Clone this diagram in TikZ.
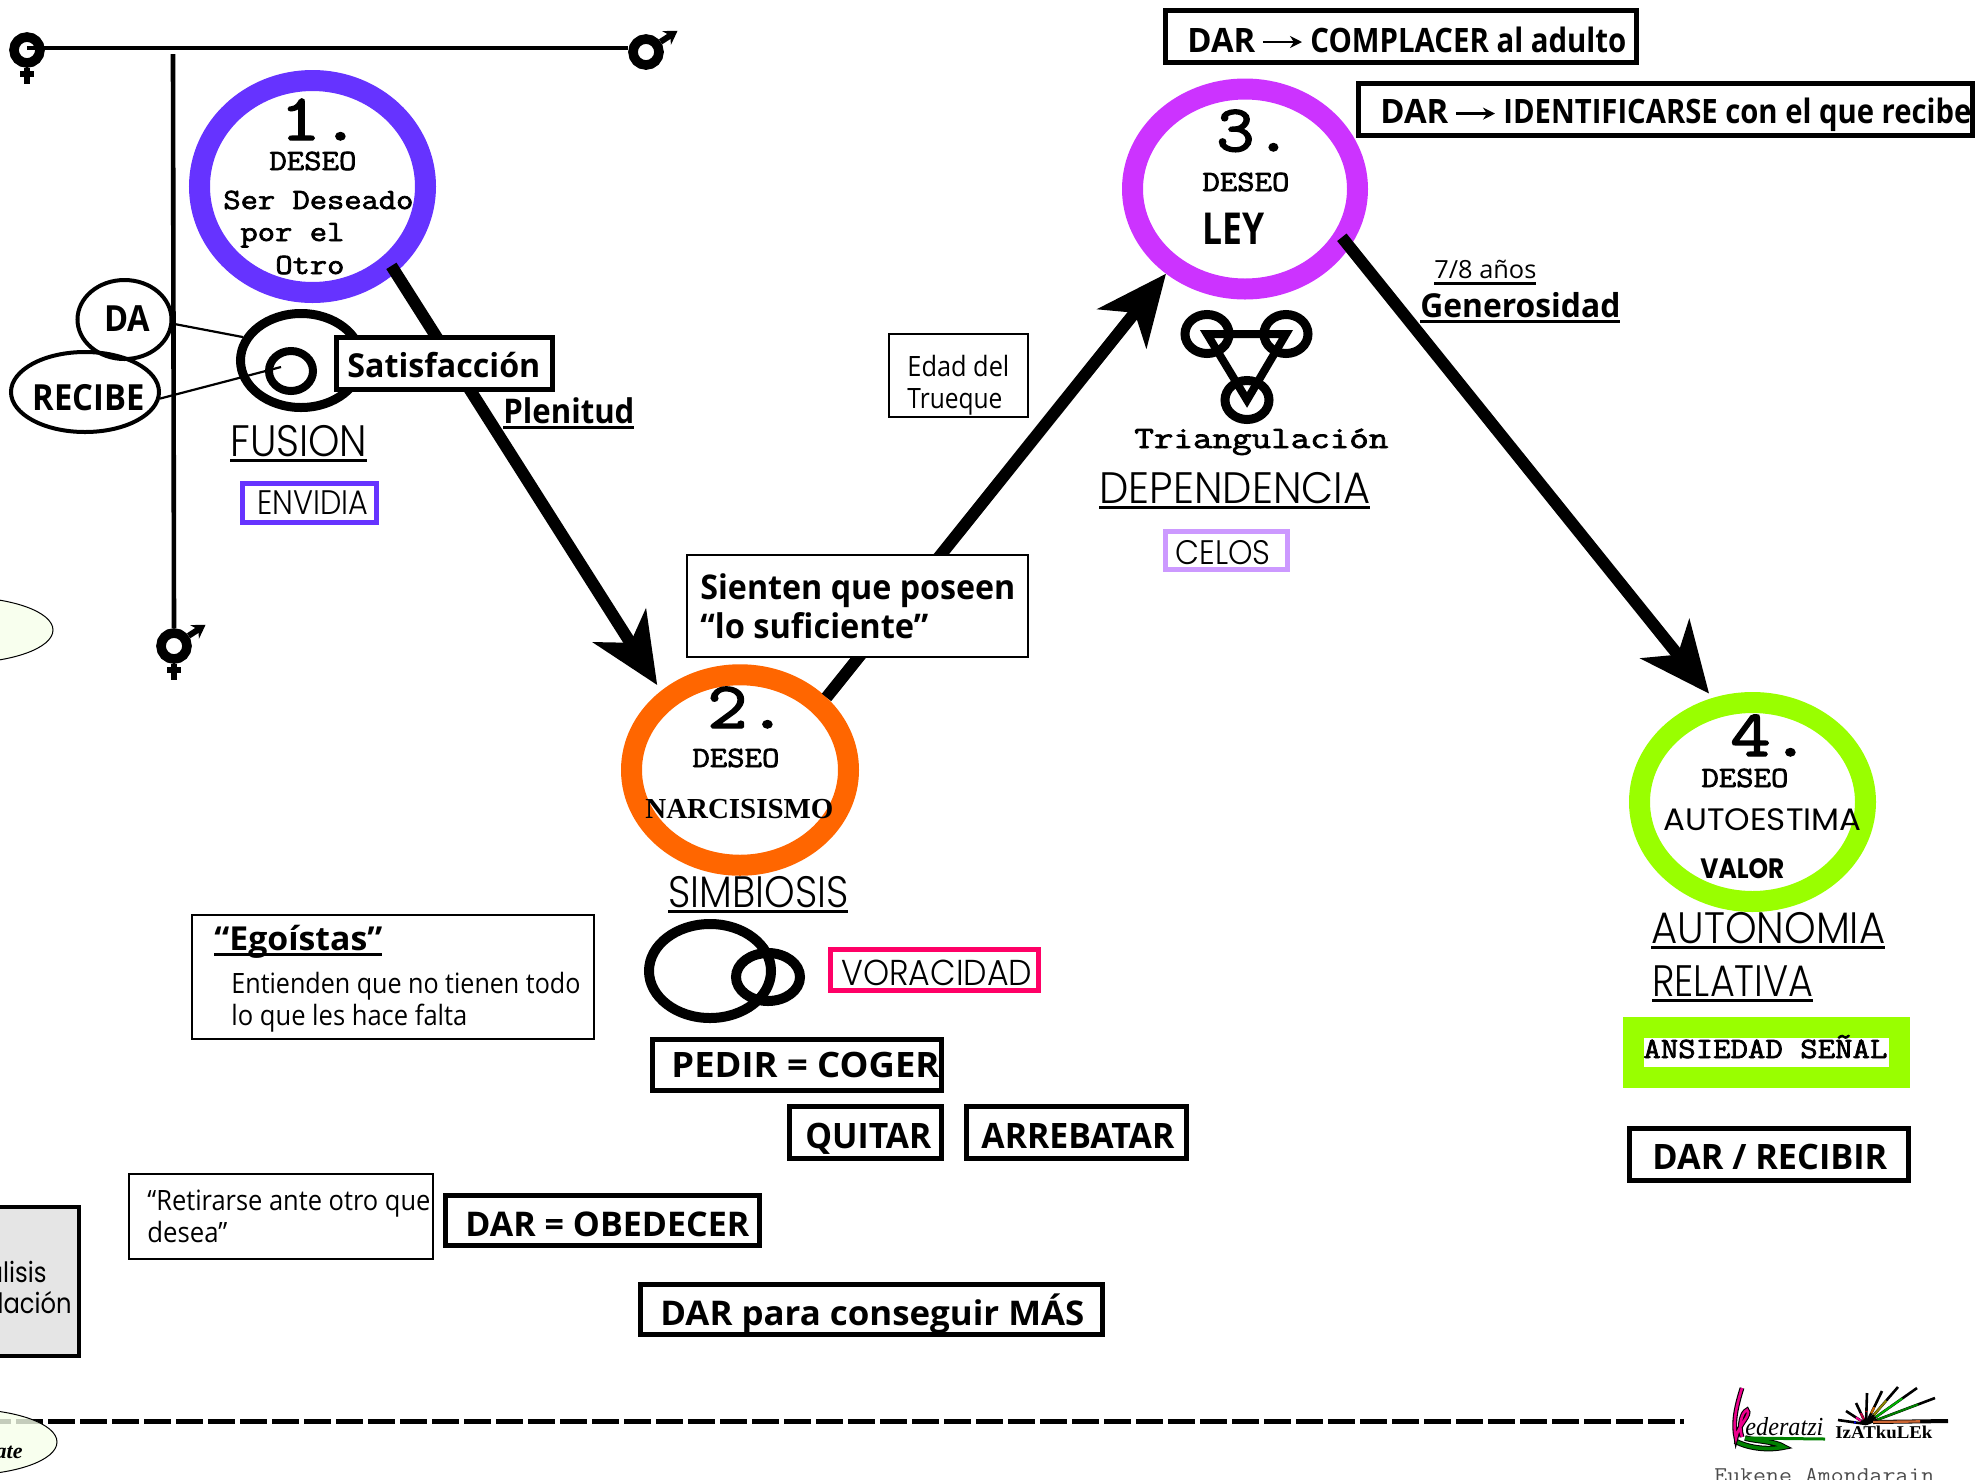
\documentclass[tikz,border=0pt]{standalone}
\usepackage{fontspec}
\usepackage{graphicx}
\usetikzlibrary{arrows.meta,shapes.geometric,calc}
\newfontfamily\abierta{Open Sans}
\newfontfamily\gotica{Poppins}
\newfontfamily\fina{Poppins Light}
\newfontfamily\romana{Liberation Serif}
\newfontfamily\maquina[FakeBold=2.2]{Latin Modern Mono}
\newlength\ux
\setlength\ux{.5pt}
\newcommand\ancho[2]{\resizebox{#1\ux}{\height}{#2}}
\newcommand\cour[2]{\ancho{#1}{\maquina\fontsize{14.7}{16}\selectfont #2}}
\newcommand\cifra[2]{\ancho{#1}{\maquina\fontsize{33}{36}\selectfont #2}}
\newcommand\gruesa[3]{\ancho{#1}{\abierta\bfseries\fontsize{#2}{#2}\selectfont #3}}
\newcommand\plana[3]{\ancho{#1}{\abierta\fontsize{#2}{#2}\selectfont #3}}
\newcommand\ligera[3]{\ancho{#1}{\fina\fontsize{#2}{#2}\selectfont #3}}
\newcommand\subr[1]{\vtop{\hbox{\smash{#1}}\kern1.6pt\hrule height 1.5pt}}
\definecolor{violeta}{HTML}{6633FF}
\definecolor{naranja}{HTML}{FF6600}
\definecolor{magenta3}{HTML}{CC33FF}
\definecolor{lima}{HTML}{99FF00}
\definecolor{rosa}{HTML}{FF0066}
\definecolor{lila}{HTML}{CC99FF}
\definecolor{palido}{HTML}{F6FFEA}
\tikzset{
    tam/.style 2 args={
        minimum width=#1*.5pt,
        minimum height=#2*.5pt,
    },
    anillo/.style={
        ellipse,
        draw,
        line width=10.5pt,
        inner sep=0pt,
    },
    aro/.style={
        ellipse,
        draw=black,
        line width=4.5pt,
        inner sep=0pt,
    },
    globo/.style={
        ellipse,
        draw=black,
        line width=2pt,
        inner sep=0pt,
    },
    caja/.style={
        rectangle,
        draw=black,
        fill=white,
        line width=2.5pt,
        inner sep=0pt,
    },
    nota/.style={
        rectangle,
        draw=black,
        fill=white,
        line width=.6pt,
        inner sep=0pt,
    },
    txt/.style={
        anchor=base west,
        inner sep=0pt,
    },
    signo/.style={
        circle,
        draw=black,
        line width=4.8pt,
        inner sep=0pt,
        minimum size=13pt,
    },
    trazo/.style={
        draw=black,
        line width=2.3pt,
    },
    brazo/.style={
        draw=black,
        line width=3pt,
    },
    flecha/.style={
        draw=black,
        line width=6pt,
        -{Stealth[length=35pt,width=31pt,inset=10pt]},
    },
    flechita/.style={
        draw=black,
        line width=1.2pt,
        -{Stealth[length=6pt,width=6pt]},
    },
    marte/.style={
        draw=black,
        line width=3pt,
        -{Stealth[length=6.5pt,width=8pt]},
    },
    fino/.style={
        draw=black,
        line width=1.1pt,
    },
    pincel/.style={
        draw=black,
        line width=1.3pt,
    },
    lejano/.style={
        ellipse,
        draw=black,
        line width=.5pt,
        fill=palido,
        fill opacity=.8,
        tam={186}{66},
    },
}
\begin{document}
\begin{tikzpicture}[x=.5pt,y=-.5pt]
    \useasboundingbox (0,0) rectangle (1977,1479);

    \coordinate (rayaA) at (-15.7,1421.7);
    \coordinate (rayaB) at (1684,1421.7);
    \draw[line width=2.5pt,dash pattern=on 13.25pt off 2.75pt] (rayaA) -- (rayaB);

    \node[lejano] (lejanoA) at (-40,630) {};
    \node[lejano] (lejanoB) at (-36,1442) {};
    \node[inner sep=0pt,anchor=base east] (ate) at (23,1458) {\romana\bfseries\itshape\fontsize{11}{11}\selectfont ate};

    \node[rectangle,draw=black,line width=2pt,fill=black!10,inner sep=0pt,tam={260}{149}] (gris) at (-51,1281.5) {};
    \node[inner sep=0pt,anchor=base east] (gris1) at (47,1282) {\ancho{60}{\gotica\fontsize{14}{14}\selectfont álisis}};
    \node[inner sep=0pt,anchor=base east] (gris2) at (72,1313) {\ancho{74}{\gotica\fontsize{14}{14}\selectfont lación}};

    % ejes
    \node[signo] (venusA) at (27,50) {};
    \node[signo] (marteA) at (646,52) {};
    \node[signo] (ambos) at (174,646) {};
    \coordinate (ejeV) at (173,54);
    \draw[trazo] ([yshift=1pt]venusA.center) -- ([yshift=2pt]marteA.west);
    \draw[trazo] (ejeV) -- (ambos.north);
    \draw[brazo] (venusA.south) -- ++(0,16);
    \draw[brazo] (venusA.south) ++(-7,6) -- ++(14,0);
    \draw[brazo] (ambos.south) -- ++(0,16);
    \draw[brazo] (ambos.south) ++(-7,6) -- ++(14,0);
    \draw[marte] (marteA.35) -- ++(17,-11);
    \draw[marte] (ambos.35) -- ++(17,-11);

    % deseos
    \node[anillo,draw=violeta,tam={226}{212}] (d1) at (312.5,186.5) {};
    \node[anillo,draw=naranja,tam={217}{190.5}] (d2) at (740,770) {};
    \node[anillo,draw=magenta3,tam={225}{200}] (d3) at (1245,189) {};
    \node[anillo,draw=lima,tam={226}{199}] (d4) at (1752.5,802) {};

    \node[txt] (n1) at (280,140) {\cifra{80}{1.}};
    \node[txt] (de1) at (269,170) {\cour{87}{DESEO}};
    \node[txt] (ser) at (223,209) {\cour{190}{Ser Deseado}};
    \node[txt] (por) at (240,241) {\cour{104}{por el}};
    \node[txt] (otro) at (275,274) {\cour{69}{Otro}};

    \node[txt] (n2) at (707,728) {\cifra{80}{2.}};
    \node[txt] (de2) at (692,767) {\cour{87}{DESEO}};
    \node[txt] (narci) at (645,818) {\ancho{188}{\romana\bfseries\fontsize{14.5}{14.5}\selectfont NARCISISMO}};

    \node[txt] (n3) at (1216,151) {\cifra{76}{3.}};
    \node[txt] (de3) at (1202,191) {\cour{87}{DESEO}};
    \node[txt] (ley) at (1202,244) {\gruesa{62}{22}{LEY}};

    \node[txt] (n4) at (1730,756) {\cifra{80}{4.}};
    \node[txt] (de4) at (1701,787) {\cour{87}{DESEO}};
    \node[txt] (auto) at (1663,830) {\ancho{198}{\gotica\fontsize{15.5}{15.5}\selectfont AUTOESTIMA}};
    \node[txt] (valor) at (1700,878) {\ancho{84}{\gotica\bfseries\fontsize{14}{14}\selectfont VALOR}};

    % fusion
    \node[globo,tam={94}{79}] (da) at (124.5,319.5) {};
    \node[globo,tam={148}{80}] (recibe) at (85,392) {};
    \node[txt] (daT) at (104,331) {\gruesa{46}{18}{DA}};
    \node[txt] (recibeT) at (32,410) {\gruesa{112}{18}{RECIBE}};
    \node[aro,tam={121}{94}] (fusionA) at (301,360.5) {};
    \node[aro,line width=4pt,tam={44}{40}] (fusionB) at (291,371) {};
    \coordinate (finRecibe) at (281,367);
    \draw[fino] (da.-5) -- (fusionA.158);
    \draw[fino] (recibe.-5) -- (finRecibe);

    % flechas
    \draw[flecha,shorten <=-4pt,shorten >=3.5pt] (d1.-46.2) -- (d2.135.8);
    \draw[flecha,shorten >=0pt] (d2.40.7) -- (d3.227.8);
    \draw[flecha,shorten <=-6.25pt,shorten >=2.75pt] (d3.-29) -- (d4.111.6);

    \node[caja,tam={216}{52}] (satis) at (444.5,363.5) {};
    \node[txt] (satisT) at (347,377) {\gruesa{193}{16.5}{Satisfacción}};
    \node[txt] (plenitud) at (503,423) {\subr{\gruesa{131}{17}{Plenitud}}};
    \node[txt] (fusion) at (230,456) {\subr{\ligera{137}{22}{FUSION}}};
    \node[caja,draw=violeta,tam={134}{39}] (envidia) at (309,502.5) {};
    \node[txt] (envidiaT) at (257,514) {\ligera{111}{17}{ENVIDIA}};

    \node[nota,tam={139}{83}] (edad) at (958.5,375.5) {};
    \node[txt] (edad1) at (907,376) {\plana{102}{14}{Edad del}};
    \node[txt] (edad2) at (907,408) {\plana{95}{14}{Trueque}};

    \node[nota,tam={341}{102}] (sienten) at (857.5,606) {};
    \node[txt] (s1) at (700,599) {\gruesa{315}{17}{Sienten que poseen}};
    \node[txt] (s2) at (700,638) {\gruesa{228}{17}{“lo suficiente”}};

    % dependencia
    \node[aro,tam={44}{39}] (tA) at (1207,334) {};
    \node[aro,tam={44}{39}] (tB) at (1286,334) {};
    \node[aro,tam={44}{39}] (tC) at (1247,400) {};
    \draw[line width=4pt] (tA.center) -- (tB.center) -- (tC.center) -- cycle;
    \node[txt] (tri) at (1134,448) {\ancho{254}{\maquina\fontsize{15.5}{16}\selectfont Triangulación}};
    \node[txt] (depen) at (1099,503) {\subr{\ligera{271}{22}{DEPENDENCIA}}};
    \node[caja,draw=lila,tam={122.5}{38.5}] (celos) at (1226.5,550.5) {};
    \node[txt] (celosT) at (1175,564.5) {\ligera{95}{17}{CELOS}};

    \node[caja,tam={471}{52}] (c1) at (1401,36.5) {};
    \node[txt] (dar1) at (1187,52) {\gruesa{68}{16.8}{DAR}};
    \node[txt] (comp) at (1310,52) {\gruesa{316}{16.8}{COMPLACER al adulto}};
    \draw[flechita] (dar1.base east) ++(7,-10) -- ($(comp.base west)+(-8,-10)$);

    \node[caja,tam={614}{52}] (c2) at (1665.5,109) {};
    \node[txt] (dar2) at (1380,123.6) {\gruesa{68}{16.8}{DAR}};
    \node[txt] (iden) at (1503,123.6) {\gruesa{468}{16.8}{IDENTIFICARSE con el que recibe}};
    \draw[flechita] (dar2.base east) ++(7,-10) -- ($(iden.base west)+(-8,-10)$);

    \node[txt] (anios) at (1434,278.6) {\subr{\plana{102}{12.5}{7/8 años}}};
    \node[txt] (gene) at (1420,317) {\subr{\gruesa{200}{16.5}{Generosidad}}};

    % simbiosis
    \node[txt] (simbio) at (668,907) {\subr{\ligera{180}{22}{SIMBIOSIS}}};
    \node[aro,line width=5pt,tam={122}{94}] (simA) at (710,971) {};
    \node[aro,line width=5pt,tam={64}{48}] (simB) at (768,977) {};
    \node[caja,draw=rosa,tam={208}{41}] (vora) at (934.5,970) {};
    \node[txt] (voraT) at (841,985) {\ligera{191}{18}{VORACIDAD}};
    \node[caja,tam={289}{51}] (pedir) at (797,1065) {};
    \node[txt] (pedirT) at (671,1077) {\gruesa{268}{17.5}{PEDIR = COGER}};
    \node[caja,tam={151.5}{52}] (quitar) at (865.7,1132.5) {};
    \node[txt] (quitarT) at (805,1148) {\gruesa{126}{17.5}{QUITAR}};
    \node[caja,tam={220}{52}] (arre) at (1076,1132.5) {};
    \node[txt] (arreT) at (981,1148) {\gruesa{193}{17.5}{ARREBATAR}};
    \node[caja,tam={314}{50}] (obed) at (602.5,1220.5) {};
    \node[txt] (obedT) at (465,1236) {\gruesa{284}{17}{DAR = OBEDECER}};
    \node[caja,tam={462}{50}] (mas) at (871.5,1309.5) {};
    \node[txt] (masT) at (660,1325) {\gruesa{424}{17}{DAR para conseguir MÁS}};

    \node[nota,tam={402}{124}] (ego) at (393,977) {};
    \node[txt] (ego0) at (214,950) {\subr{\gruesa{168}{16.5}{“Egoístas”}}};
    \node[txt] (ego1) at (231,993) {\plana{349}{14}{Entienden que no tienen todo}};
    \node[txt] (ego2) at (231,1025) {\plana{236}{14}{lo que les hace falta}};

    \node[nota,tam={304}{85}] (reti) at (281,1216.5) {};
    \node[txt] (reti1) at (147,1210) {\plana{283}{14}{“Retirarse ante otro que}};
    \node[txt] (reti2) at (147,1242) {\plana{80}{14}{desea”}};

    % autonomia
    \node[txt] (auton) at (1651,943) {\subr{\ligera{234}{22}{AUTONOMIA}}};
    \node[txt] (relat) at (1652,996) {\subr{\ligera{161}{22}{RELATIVA}}};
    \node[caja,draw=lima,line width=10.5pt,tam={266}{50}] (ansie) at (1766.5,1052.5) {};
    \node[txt] (ansieT) at (1643,1058) {\ancho{244}{\maquina\fontsize{14.7}{16}\selectfont ANSIEDAD SEÑAL}};
    \node[caja,tam={279}{52}] (darrec) at (1769,1154.5) {};
    \node[txt] (darrecT) at (1652,1169) {\gruesa{235}{17.5}{DAR / RECIBIR}};

    % firma
    \draw[line width=2.8pt,black] (1735,1441) .. controls (1750,1449) and (1770,1450) .. (1784,1447) .. controls (1775,1441) and (1755,1441) .. (1745,1438);
    \draw[line width=1.8pt,green!50!black] (1735,1441) .. controls (1750,1449) and (1770,1450) .. (1784,1447) .. controls (1775,1441) and (1755,1441) .. (1745,1438);
    \draw[line width=1.5pt,green!50!black] (1745,1438) -- (1825,1439);
    \draw[line width=2.4pt,black] (1742,1388) .. controls (1735,1410) and (1733,1425) .. (1736,1438) .. controls (1738,1425) and (1752,1415) .. (1747,1410) .. controls (1742,1412) and (1738,1425) .. (1742,1437);
    \draw[line width=1.3pt,magenta] (1742,1388) .. controls (1735,1410) and (1733,1425) .. (1736,1438) .. controls (1738,1425) and (1752,1415) .. (1747,1410) .. controls (1742,1412) and (1738,1425) .. (1742,1437);
    \node[txt] (hede) at (1745,1435) {\ancho{78}{\romana\itshape\fontsize{13}{13}\selectfont ederatzi}};
    \coordinate (solB) at (1866,1424);
    \foreach \xt/\yt/\col in {1838/1420/blue,1846/1411/magenta,1856/1403/purple,1867/1393/red!70!black,1882/1391/orange!80!black,1898/1387/olive,1917/1388/green!70!black,1935/1398/green!50!black}
        \draw[pincel,shorten <=6pt] (solB) -- (\xt,\yt) (solB) edge[\col,line width=1pt,shorten <=6pt,shorten >=9pt] (\xt,\yt);
    \coordinate (brochaA) at (1873,1422);
    \coordinate (brochaB) at (1948,1421);
    \draw[line width=2pt] (brochaA) -- (brochaB);
    \draw[line width=1.2pt,brown!80!red,shorten >=14pt] (brochaA) -- (brochaB);
    \node[txt] (izat) at (1835,1438) {\ancho{97}{\romana\bfseries\fontsize{9}{9}\selectfont IzATkuLEk}};
    \node[txt] (firma) at (1714,1482) {\ancho{220}{\color{black!70}\ttfamily\fontsize{11.3}{12}\selectfont Eukene Amondarain}};
\end{tikzpicture}
\end{document}
